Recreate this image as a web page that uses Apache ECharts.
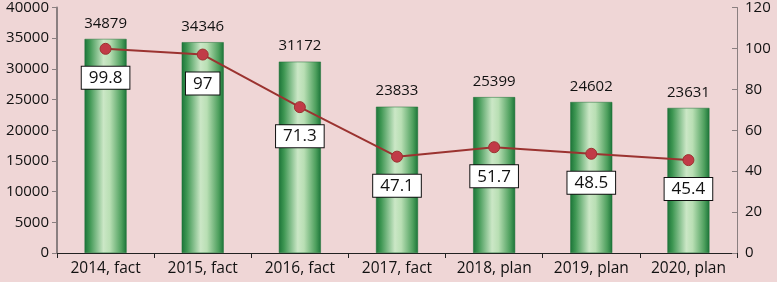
<!DOCTYPE html>
<html>
<head>
<meta charset="utf-8">
<script src="https://cdn.jsdelivr.net/npm/echarts@6/dist/echarts.min.js"></script>
<style>
  html, body { margin: 0; padding: 0; background: #efd6d6; }
  #chart { width: 777px; height: 282px; }
</style>
</head>
<body>
<div id="chart"></div>
<script>
var categories = ["2014, fact", "2015, fact", "2016, fact", "2017, fact", "2018, plan", "2019, plan", "2020, plan"];
var barValues = [34879, 34346, 31172, 23833, 25399, 24602, 23631];
var lineValues = [99.8, 97, 71.3, 47.1, 51.7, 48.5, 45.4];

var fontFamily = "'Open Sans', 'Liberation Sans', sans-serif";

var barGradient = new echarts.graphic.LinearGradient(0, 0, 1, 0, [
  { offset: 0, color: "#1b7438" },
  { offset: 0.12, color: "#3d9652" },
  { offset: 0.45, color: "#cbe7c6" },
  { offset: 0.6, color: "#b9dfb4" },
  { offset: 0.88, color: "#4d9f5d" },
  { offset: 1, color: "#1b7438" }
]);

var option = {
  backgroundColor: "#efd6d6",
  animation: false,
  grid: {
    left: 57,
    right: 40,
    top: 6,
    bottom: 29,
    containLabel: false
  },
  xAxis: {
    type: "category",
    data: categories,
    axisLine: { lineStyle: { color: "#222", width: 1 } },
    axisTick: { show: true, length: 5, lineStyle: { color: "#222" } },
    axisLabel: { interval: 0, color: "#111", fontSize: 15.5, fontFamily: fontFamily, margin: 8 }
  },
  yAxis: [
    {
      type: "value",
      min: 0,
      max: 40000,
      interval: 5000,
      splitLine: { show: false },
      axisLine: { show: true, lineStyle: { color: "#8a7f80", width: 2 } },
      axisTick: { show: true, length: 5, lineStyle: { color: "#8a7f80" } },
      axisLabel: {
        color: "#111",
        fontSize: 15,
        fontFamily: fontFamily,
        margin: 8,
        formatter: function (v) { return String(v); }
      }
    },
    {
      type: "value",
      min: 0,
      max: 120,
      interval: 20,
      position: "right",
      splitLine: { show: false },
      axisLine: { show: true, lineStyle: { color: "#8a7f80", width: 1 } },
      axisTick: { show: true, length: 5, inside: true, lineStyle: { color: "#8a7f80" } },
      axisLabel: { color: "#111", fontSize: 15, fontFamily: fontFamily, margin: 8 }
    }
  ],
  series: [
    {
      type: "bar",
      data: barValues,
      barWidth: 42,
      itemStyle: { color: barGradient, borderColor: "#1b6e35", borderWidth: 0.5 },
      label: {
        show: true,
        position: "top",
        distance: 8,
        color: "#111",
        fontSize: 15,
        fontFamily: fontFamily
      }
    },
    {
      type: "line",
      yAxisIndex: 1,
      data: lineValues,
      symbol: "circle",
      symbolSize: 11,
      lineStyle: { color: "#9b3330", width: 2 },
      itemStyle: { color: "#c13b47", borderColor: "#9b3330", borderWidth: 1 },
      label: {
        show: true,
        position: "bottom",
        distance: 12,
        color: "#111",
        fontSize: 17,
        fontFamily: fontFamily,
        backgroundColor: "#ffffff",
        borderColor: "#111",
        borderWidth: 1,
        padding: [3, 7, 2, 7]
      },
      z: 5
    }
  ]
};

var myChart = echarts.init(document.getElementById("chart"));
myChart.setOption(option);
</script>
</body>
</html>
